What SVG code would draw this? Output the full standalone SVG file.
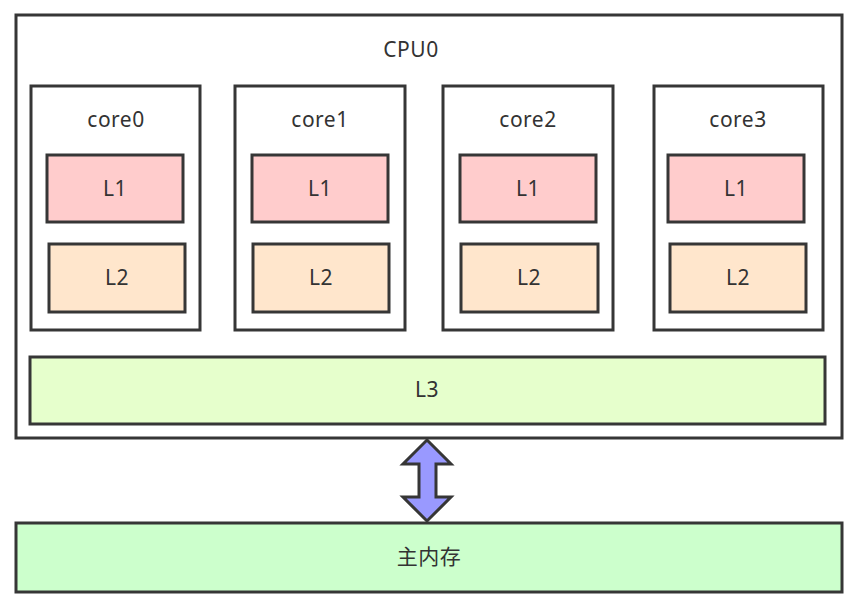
<svg xmlns="http://www.w3.org/2000/svg" width="853" height="605" viewBox="0 0 853 605">
<style>
rect{stroke:#363636;stroke-width:3}
.w{fill:#fff}
.l1{fill:#ffcccc}
.l2{fill:#ffe6cc}
.l3{fill:#e6ffcc}
.mem{fill:#ccffcc}
text{font-family:"Noto Sans","Noto Sans CJK SC",sans-serif;font-size:21px;letter-spacing:0.5px;fill:#333;text-anchor:middle;dominant-baseline:central}
</style>
<g id="cpu0"><rect class="w" x="16" y="15" width="826" height="423"/><text x="411" y="49">CPU0</text></g>
<g id="core0"><rect class="w" x="31" y="86" width="169" height="244"/><text x="116" y="119">core0</text></g>
<g id="core0-l1"><rect class="l1" x="47" y="155" width="136" height="67"/><text x="115" y="188">L1</text></g>
<g id="core0-l2"><rect class="l2" x="49" y="244" width="136" height="68"/><text x="117" y="277">L2</text></g>
<g id="core1"><rect class="w" x="235" y="86" width="170" height="244"/><text x="320" y="119">core1</text></g>
<g id="core1-l1"><rect class="l1" x="252" y="155" width="136" height="67"/><text x="320" y="188">L1</text></g>
<g id="core1-l2"><rect class="l2" x="253" y="244" width="136" height="68"/><text x="321" y="277">L2</text></g>
<g id="core2"><rect class="w" x="443" y="86" width="170" height="244"/><text x="528" y="119">core2</text></g>
<g id="core2-l1"><rect class="l1" x="460" y="155" width="136" height="67"/><text x="528" y="188">L1</text></g>
<g id="core2-l2"><rect class="l2" x="461" y="244" width="137" height="68"/><text x="529" y="277">L2</text></g>
<g id="core3"><rect class="w" x="654" y="86" width="169" height="244"/><text x="738" y="119">core3</text></g>
<g id="core3-l1"><rect class="l1" x="668" y="155" width="136" height="67"/><text x="736" y="188">L1</text></g>
<g id="core3-l2"><rect class="l2" x="670" y="244" width="136" height="68"/><text x="738" y="277">L2</text></g>
<g id="l3"><rect class="l3" x="30" y="357" width="795" height="67"/><text x="427" y="389">L3</text></g>
<g id="memory"><rect class="mem" x="16" y="523" width="826" height="69"/><text x="429" y="556">主内存</text></g>
<g id="connectors"><path d="M427 440 L451 464 L436 464 L436 497 L451 497 L427 521 L403 497 L419 497 L419 464 L403 464 Z" fill="#9999ff" stroke="#363636" stroke-width="3" stroke-linejoin="miter"/></g>
</svg>
